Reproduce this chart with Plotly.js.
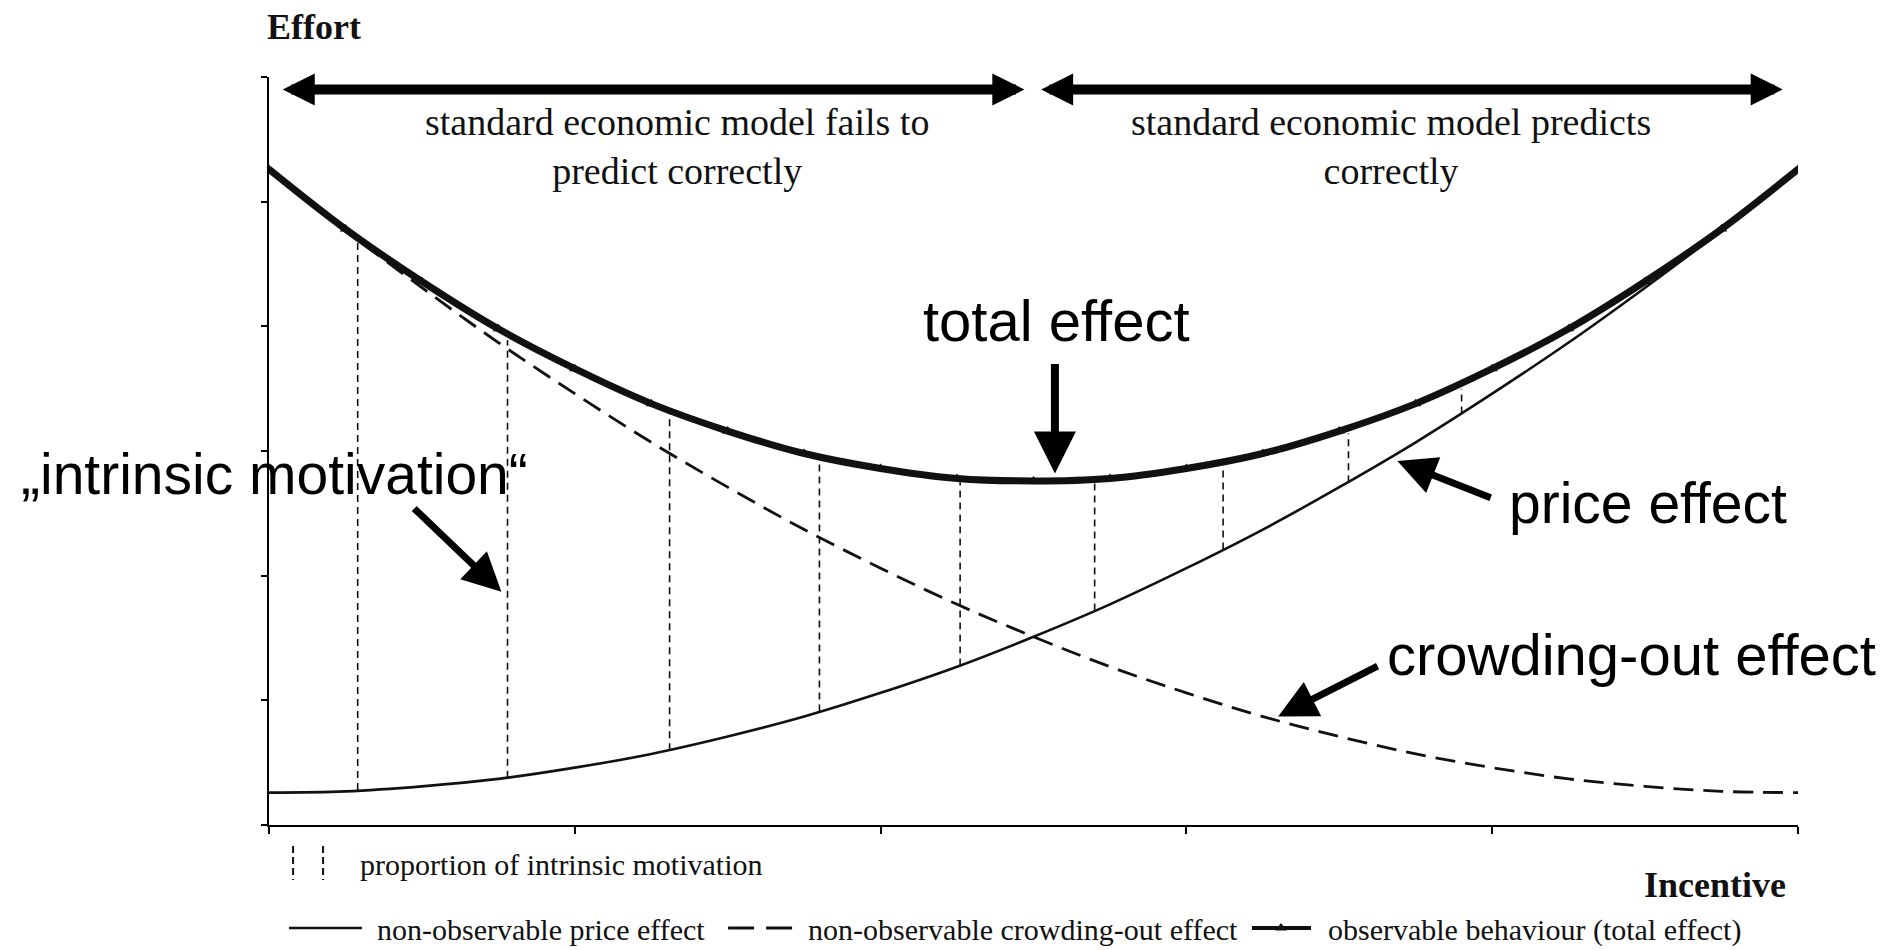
<!DOCTYPE html>
<html>
<head>
<meta charset="utf-8">
<script src="https://cdn.plot.ly/plotly-3.0.1.min.js"></script>
<style>
  html, body { margin: 0; padding: 0; background: #ffffff; }
  #chart { width: 1903px; height: 950px; }
</style>
</head>
<body>
<div id="chart"></div>
<script>
// ---- data ----
const incentive    = [0, 0.25, 0.5, 0.75, 1, 1.25, 1.5, 1.75, 2, 2.25, 2.5, 2.75, 3, 3.25, 3.5, 3.75, 4, 4.25, 4.5, 4.75, 5];
const priceEffect  = [0.26, 0.27, 0.31, 0.37, 0.46, 0.57, 0.71, 0.87, 1.06, 1.27, 1.51, 1.77, 2.06, 2.37, 2.71, 3.07, 3.46, 3.87, 4.31, 4.77, 5.26];
const crowdingOut  = [5.26, 4.77, 4.31, 3.87, 3.46, 3.07, 2.71, 2.37, 2.06, 1.77, 1.51, 1.27, 1.06, 0.87, 0.71, 0.57, 0.46, 0.37, 0.31, 0.27, 0.26];
const totalEffect  = [5.26, 4.78, 4.36, 3.98, 3.66, 3.38, 3.16, 2.98, 2.86, 2.78, 2.76, 2.78, 2.86, 2.98, 3.16, 3.38, 3.66, 3.98, 4.36, 4.78, 5.26];

const intrinsicX      = [0.29, 0.78, 1.31, 1.80, 2.26, 2.70, 3.12, 3.53, 3.90];
const intrinsicBottom = [0.28, 0.38, 0.60, 0.91, 1.28, 1.72, 2.21, 2.75, 3.30];
const intrinsicTop    = [4.68, 3.89, 3.30, 2.92, 2.75, 2.74, 2.86, 3.14, 3.50];

const seriesNames = [
  'proportion of intrinsic motivation',
  'non-observable price effect',
  'non-observable crowding-out effect',
  'observable behaviour (total effect)'
];

// ---- styles ----
const SERIF = '"Liberation Serif", "Times New Roman", Times, serif';
const SANS  = '"Liberation Sans", Arial, Helvetica, sans-serif';
const INK   = '#111111';

// vertical segments for intrinsic motivation (built from the arrays)
const segX = [], segY = [];
intrinsicX.forEach((x, i) => {
  segX.push(x, x, null);
  segY.push(intrinsicBottom[i], intrinsicTop[i], null);
});

const data = [
  {
    type: 'scatter', mode: 'lines', name: seriesNames[0], legend: 'legend',
    x: segX, y: segY, connectgaps: false,
    line: { color: INK, width: 1.6, dash: '7px,5px' },
    hoverinfo: 'skip'
  },
  {
    type: 'scatter', mode: 'lines', name: seriesNames[1], legend: 'legend2',
    x: incentive, y: priceEffect,
    line: { color: INK, width: 2.6, shape: 'spline' }
  },
  {
    type: 'scatter', mode: 'lines', name: seriesNames[2], legend: 'legend3',
    x: incentive, y: crowdingOut,
    line: { color: INK, width: 2.8, dash: '20px,10px', shape: 'spline' }
  },
  {
    type: 'scatter', mode: 'lines+markers', name: seriesNames[3], legend: 'legend4',
    x: incentive, y: totalEffect,
    line: { color: INK, width: 7, shape: 'spline' },
    marker: { symbol: 'triangle-up', size: 10, color: INK }
  }
];

const legendBase = {
  orientation: 'h', xanchor: 'left', yanchor: 'middle',
  xref: 'container', yref: 'container',
  bgcolor: 'rgba(0,0,0,0)', borderwidth: 0,
  font: { family: SERIF, size: 30, color: INK }
};

function arrow(x, y, ax, ay, w, size) {
  return {
    xref: 'x', yref: 'y', axref: 'x', ayref: 'y',
    x: x, y: y, ax: ax, ay: ay, text: '',
    showarrow: true, arrowhead: 2, arrowsize: size, arrowwidth: w, arrowcolor: '#000'
  };
}
function dblArrow(x0, x1, y, w, size) {
  return {
    xref: 'x', yref: 'y', axref: 'x', ayref: 'y',
    x: x1, y: y, ax: x0, ay: y, text: '',
    showarrow: true, arrowside: 'end+start',
    arrowhead: 2, startarrowhead: 2, arrowsize: size, startarrowsize: size,
    arrowwidth: w, arrowcolor: '#000'
  };
}
function label(text, x, y, xanchor, font) {
  return {
    xref: 'paper', yref: 'paper', x: x, y: y, xanchor: xanchor, yanchor: 'middle',
    text: text, showarrow: false, font: font
  };
}

const annotations = [
  label('<b>Effort</b>', -0.0026, 1.067, 'left', { family: SERIF, size: 36, color: INK }),
  label('<b>Incentive</b>', 0.9935, -0.0802, 'right', { family: SERIF, size: 36, color: INK }),
  label('standard economic model fails to<br>predict correctly', 0.267, 0.9065, 'center', { family: SERIF, size: 38, color: INK }),
  label('standard economic model predicts<br>correctly', 0.734, 0.9065, 'center', { family: SERIF, size: 38, color: INK }),
  label('total effect', 0.515, 0.674, 'center', { family: SANS, size: 58, color: '#000' }),
  label('\u201Eintrinsic motivation\u201C', 0.0036, 0.469, 'center', { family: SANS, size: 57, color: '#000' }),
  label('price effect', 0.902, 0.4305, 'center', { family: SANS, size: 57, color: '#000' }),
  label('crowding-out effect', 0.8914, 0.2286, 'center', { family: SANS, size: 58, color: '#000' }),
  dblArrow(0.04, 2.47, 5.90, 10, 0.64),
  dblArrow(2.52, 4.95, 5.90, 10, 0.64),
  arrow(2.57, 2.82, 2.57, 3.71, 8, 1.05),
  arrow(0.76, 1.87, 0.47, 2.55, 7, 1.1),
  arrow(3.69, 2.92, 4.00, 2.62, 7, 1.1),
  arrow(3.30, 0.87, 3.63, 1.28, 7, 1.1)
];

const axisBase = {
  showgrid: false, zeroline: false, showticklabels: false,
  showline: true, linecolor: '#000', linewidth: 2,
  ticks: 'outside', tickcolor: '#000', tickwidth: 1.5, dtick: 1, tick0: 0,
  fixedrange: true, automargin: false
};

const layout = {
  width: 1903, height: 950,
  margin: { l: 269, r: 105, t: 77, b: 125, pad: 0, autoexpand: false },
  paper_bgcolor: '#ffffff', plot_bgcolor: '#ffffff',
  font: { family: SERIF, color: INK },
  xaxis: Object.assign({}, axisBase, { range: [0, 5], ticklen: 7 }),
  yaxis: Object.assign({}, axisBase, { range: [0, 6], ticklen: 6 }),
  showlegend: true,
  legend:  Object.assign({}, legendBase, { x: 0.1498, y: 0.0916, itemwidth: 65 }),
  legend2: Object.assign({}, legendBase, { x: 0.1498, y: 0.0232, itemwidth: 82 }),
  legend3: Object.assign({}, legendBase, { x: 0.3805, y: 0.0232, itemwidth: 74 }),
  legend4: Object.assign({}, legendBase, { x: 0.6558, y: 0.0232, itemwidth: 70 }),
  annotations: annotations,
  hovermode: false
};

Plotly.newPlot('chart', data, layout, { displayModeBar: false, responsive: false }).then(function (gd) {
  // legend symbols drawn like the reference's key
  function styleLegendLine(sel, d, width, dash) {
    try {
      const p = gd.querySelector(sel);
      if (!p) return;
      p.setAttribute('d', d);
      if (width) p.style.setProperty('stroke-width', width);
      if (dash) p.style.setProperty('stroke-dasharray', dash);
    } catch (e) {}
  }
  styleLegendLine('g.legend .legendlines path', 'M8,-17v34M38,-17v34', '2px', '7px,4px');
  styleLegendLine('g.legend2 .legendlines path', 'M4,0H77', '2.6px');
  styleLegendLine('g.legend3 .legendlines path', 'M4,0H68', '3px', '26px,12px');
  styleLegendLine('g.legend4 .legendlines path', 'M4,0H63', '4px');
  try {
    const pt = gd.querySelector('g.legend4 .legendpoints path');
    if (pt) pt.setAttribute('transform', 'translate(33,0)');
  } catch (e) {}
});
</script>
</body>
</html>
